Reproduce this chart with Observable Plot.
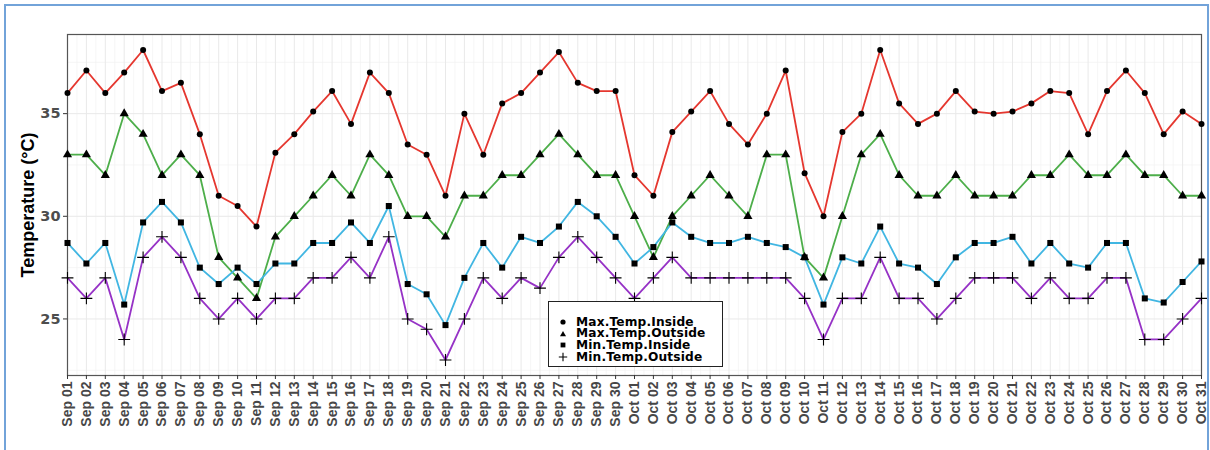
<!DOCTYPE html>
<html>
<head>
<meta charset="utf-8">
<script src="https://cdn.jsdelivr.net/npm/d3@7"></script>
<script src="https://cdn.jsdelivr.net/npm/@observablehq/plot@0.6"></script>
<style>
  html, body { margin: 0; padding: 0; background: #fff; }
  #wrap { position: relative; width: 1210px; height: 450px; overflow: hidden; }
  #frame { position: absolute; left: 4px; top: 4px; width: 1205px; height: 460px; border: 2px solid #72a3d9; box-sizing: border-box; pointer-events: none; }
  #legend { position: absolute; left: 548px; top: 301px; width: 175px; height: 66px; box-sizing: border-box; border: 1.5px solid #222; background: #fff;
            font-family: "DejaVu Sans", sans-serif; font-weight: bold; font-size: 12.2px; color: #000; }
  #legend .row { position: absolute; left: 0; width: 170px; height: 11.5px; }
  #legend .row svg { position: absolute; left: 8px; top: 0; }
  #legend .row span { position: absolute; display: block; left: 27px; top: 0; height: 11.5px; line-height: 11.5px; white-space: nowrap; letter-spacing: 0.15px; }
</style>
</head>
<body>
<div id="wrap">
  <div id="chart"></div>
  <div id="frame"></div>
  <div id="legend"></div>
</div>
<script>
// ---- data ----
const startDay = "2023-09-01";
const endDay = "2023-10-31";
const seriesNames = ["Max.Temp.Inside", "Max.Temp.Outside", "Min.Temp.Inside", "Min.Temp.Outside"];
const seriesColors = ["#e5372f", "#4dae4a", "#41b6e2", "#9632c6"];
const seriesSymbols = ["circle", "triangle", "square", "plus"];

const maxInside = [36,37.1,36,37,38.1,36.1,36.5,34,31,30.5, 29.5,33.1,34,35.1,36.1,34.5,37,36,33.5,33, 31,35,33,35.5,36,37,38,36.5,36.1,36.1,
                   32,31,34.1,35.1,36.1,34.5,33.5,35,37.1,32.1, 30,34.1,35,38.1,35.5,34.5,35,36.1,35.1,35, 35.1,35.5,36.1,36,34,36.1,37.1,36,34,35.1, 34.5];
const maxOutside = [33,33,32,35,34,32,33,32,28,27, 26,29,30,31,32,31,33,32,30,30, 29,31,31,32,32,33,34,33,32,32,
                    30,28,30,31,32,31,30,33,33,28, 27,30,33,34,32,31,31,32,31,31, 31,32,32,33,32,32,33,32,32,31, 31];
const minInside = [28.7,27.7,28.7,25.7,29.7,30.7,29.7,27.5,26.7,27.5, 26.7,27.7,27.7,28.7,28.7,29.7,28.7,30.5,26.7,26.2, 24.7,27.0,28.7,27.5,29.0,28.7,29.5,30.7,30.0,29.0,
                   27.7,28.5,29.7,29.0,28.7,28.7,29.0,28.7,28.5,28.0, 25.7,28.0,27.7,29.5,27.7,27.5,26.7,28.0,28.7,28.7, 29.0,27.7,28.7,27.7,27.5,28.7,28.7,26.0,25.8,26.8, 27.8];
const minOutside = [27,26,27,24,28,29,28,26,25,26, 25,26,26,27,27,28,27,29,25,24.5, 23,25,27,26,27,26.5,28,29,28,27,
                    26,27,28,27,27,27,27,27,27,26, 24,26,26,28,26,26,25,26,27,27, 27,26,27,26,26,27,27,24,24,25, 26];
const yTicks = [25, 30, 35];
const yMinor = [22.5, 27.5, 32.5, 37.5];

// ---- build table ----
const t0 = new Date(startDay + "T00:00:00Z");
const t1 = new Date(endDay + "T00:00:00Z");
const days = d3.utcDay.range(t0, d3.utcDay.offset(t1, 1));
const halfDays = d3.utcHour.every(12).range(t0, t1).filter((d, i) => i % 2 === 1);
const allSeries = [maxInside, maxOutside, minInside, minOutside];
const rows = [];
allSeries.forEach((vals, s) => vals.forEach((v, i) => rows.push({date: days[i], value: v, series: seriesNames[s]})));

const lo = 23, hi = 38.1, pad = (hi - lo) * 0.05;

const markFor = (name, idx) => {
  const data = rows.filter(r => r.series === name);
  const sym = seriesSymbols[idx];
  return sym === "plus"
    ? Plot.dot(data, {x: "date", y: "value", symbol: () => "plus", r: 3.9, stroke: "#000", strokeWidth: 1.1, fill: "none"})
    : Plot.dot(data, {x: "date", y: "value", symbol: () => sym, r: sym === "circle" ? 3 : 3.4, fill: "#000", stroke: "none"});
};

const chart = Plot.plot({
  width: 1210,
  height: 450,
  marginLeft: 67,
  marginRight: 9,
  marginTop: 34,
  marginBottom: 75,
  style: {fontFamily: "'Liberation Sans', Arial, sans-serif", background: "transparent"},
  x: {type: "utc", domain: [t0, t1]},
  y: {domain: [lo - pad, hi + pad]},
  symbol: {type: "identity"},
  marks: [
    Plot.ruleX(halfDays, {stroke: "#f2f2f2", strokeWidth: 0.7}),
    Plot.ruleY(yMinor, {stroke: "#f2f2f2", strokeWidth: 0.7}),
    Plot.ruleX(days, {stroke: "#e9e9e9", strokeWidth: 1}),
    Plot.ruleY(yTicks, {stroke: "#e9e9e9", strokeWidth: 1}),
    Plot.frame({stroke: "#555", strokeWidth: 1.2}),
    ...seriesNames.map((name, i) => Plot.line(rows.filter(r => r.series === name),
      {x: "date", y: "value", stroke: seriesColors[i], strokeWidth: 1.8})),
    ...seriesNames.map((name, i) => markFor(name, i)),
    Plot.axisX({ticks: days, tickFormat: d3.utcFormat("%b %d"), tickRotate: -90, tickSize: 4, tickPadding: 2,
      fontSize: 14, fontWeight: "bold", fill: "#474747", stroke: "#333", label: null}),
    Plot.axisY({ticks: yTicks, tickSize: 4, tickPadding: 3, fontSize: 14.5, fontWeight: "bold",
      fill: "#4d4d4d", stroke: "#333", label: null, fontFamily: "'DejaVu Sans', sans-serif"}),
    Plot.text(["Temperature (°C)"], {text: d => d, frameAnchor: "left", textAnchor: "middle", dx: -39, rotate: -90,
      fontSize: 18, fontWeight: "bold", fill: "#000"})
  ]
});
document.getElementById("chart").appendChild(chart);

// ---- legend ----
const legend = document.getElementById("legend");
const rowTops = [14.5, 26.2, 37.9, 49.6];
const symPath = {
  circle: '<circle cx="6" cy="6" r="2.6" fill="#000"/>',
  triangle: '<path d="M6,3 L9,8.2 L3,8.2 Z" fill="#000"/>',
  square: '<rect x="3.6" y="3.6" width="4.8" height="4.8" fill="#000"/>',
  plus: '<path d="M6,1.8 V10.2 M1.8,6 H10.2" stroke="#000" stroke-width="1.1" fill="none"/>'
};
seriesNames.forEach((name, i) => {
  const row = document.createElement("div");
  row.className = "row";
  row.style.top = rowTops[i] + "px";
  row.innerHTML = `<svg width="12" height="12" style="top:-0.5px">${symPath[seriesSymbols[i]]}</svg><span>${name}</span>`;
  legend.appendChild(row);
});
</script>
</body>
</html>
